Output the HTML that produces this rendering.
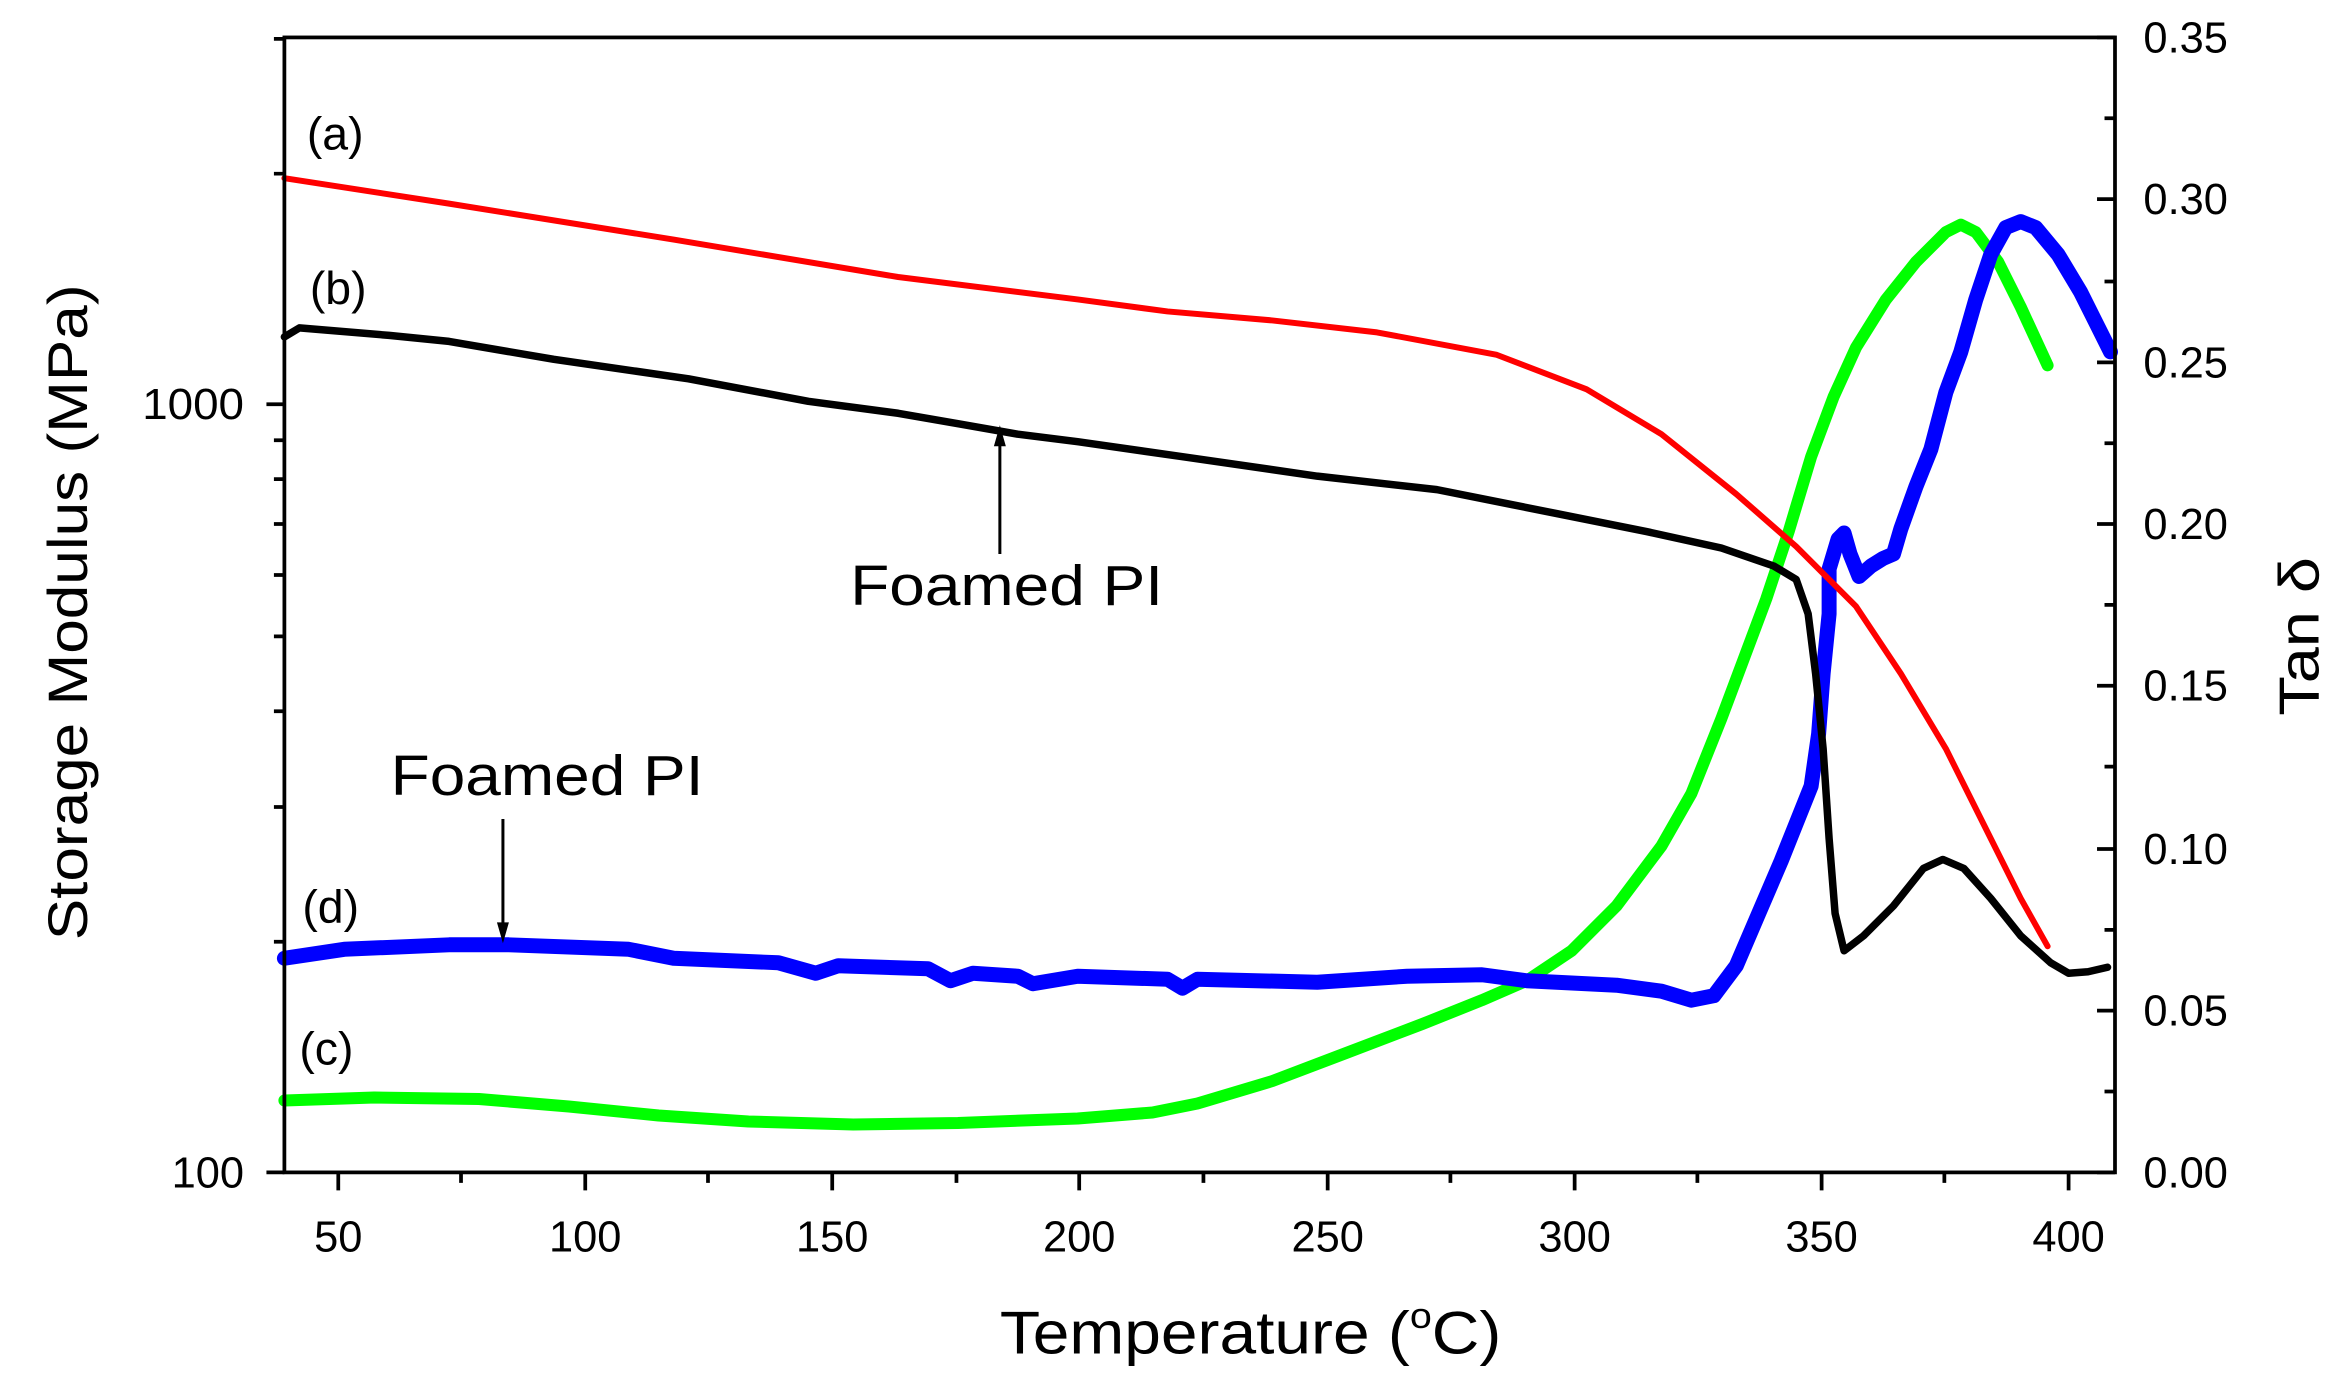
<!DOCTYPE html>
<html><head><meta charset="utf-8"><style>html,body{margin:0;padding:0;background:#fff}svg{display:block}text{font-family:"Liberation Sans",sans-serif}</style></head><body>
<svg width="2347" height="1388" viewBox="0 0 1568 927" preserveAspectRatio="none" xmlns="http://www.w3.org/2000/svg">
<rect width="1568" height="927" fill="#fff"/>
<g fill="none" stroke-linejoin="round" stroke-linecap="round">
<polyline stroke="#00ff00" stroke-width="8" points="190,735 250,733 320,734 380,739 440,745 500,749 570,751 640,750 720,747 770,743 800,737 850,722 900,703 950,684 990,668 1020,655 1050,635 1080,605 1110,565 1130,530 1150,480 1165,440 1180,400 1195,355 1210,305 1225,265 1240,232 1260,200 1280,175 1300,155 1310,150 1320,155 1335,175 1350,205 1368,244"/>
<polyline stroke="#0000ff" stroke-width="10" points="190,640 230,634 300,631 340,631 420,634 450,640 520,643 545,650 560,645 620,647 635,655 650,650 680,652 690,657 720,652 780,654 790,660 800,654 880,656 940,652 990,651 1020,655 1080,658 1110,662 1130,668 1145,665 1160,645 1175,610 1190,575 1200,550 1210,525 1215,490 1218,450 1222,410 1222,380 1228,360 1232,356 1236,370 1242,385 1250,378 1258,373 1265,370 1270,353 1280,325 1290,300 1300,262 1310,235 1320,200 1330,170 1340,152 1350,148 1360,152 1375,170 1390,195 1400,215 1410,235"/>
<polyline stroke="#ff0000" stroke-width="4" points="190,119 300,136 450,160 600,185 720,200 780,208 850,214 920,222 1000,237 1060,260 1110,290 1160,330 1200,365 1240,405 1270,450 1300,500 1330,560 1350,600 1368,632"/>
<polyline stroke="#000" stroke-width="5" points="190,225 200,219 260,224 300,228 370,240 460,253 540,268 600,276 640,283 680,290 720,295 790,305 880,318 960,327 1040,343 1100,355 1150,366 1185,378 1200,387 1208,410 1213,450 1218,500 1222,560 1226,610 1232,635 1245,625 1265,605 1285,580 1298,574 1312,580 1330,600 1350,625 1370,643 1382,650 1395,649 1408,646"/>
</g>
<g stroke="#000" stroke-width="2.5" fill="none">
<rect x="190" y="25" width="1223" height="758"/>
<path d="M226,783v12M391,783v12M556,783v12M721,783v12M887,783v12M1052,783v12M1217,783v12M1382,783v12M308,783v7M473,783v7M639,783v7M804,783v7M969,783v7M1134,783v7M1299,783v7"/>
<path d="M190,783h-12M190,270h-12M190,629h-7M190,539h-7M190,475h-7M190,425h-7M190,384h-7M190,350h-7M190,320h-7M190,294h-7M190,116h-7M190,26h-7"/>
<path d="M1413,25h-12M1413,133h-12M1413,242h-12M1413,350h-12M1413,458h-12M1413,567h-12M1413,675h-12M1413,783h-12M1413,79h-7M1413,188h-7M1413,296h-7M1413,404h-7M1413,512h-7M1413,621h-7M1413,729h-7"/>
</g>
<g font-size="29" fill="#000" text-anchor="middle">
<text x="226" y="836">50</text><text x="391" y="836">100</text><text x="556" y="836">150</text><text x="721" y="836">200</text><text x="887" y="836">250</text><text x="1052" y="836">300</text><text x="1217" y="836">350</text><text x="1382" y="836">400</text>
</g>
<g font-size="29" text-anchor="end"><text x="163" y="280" textLength="68" lengthAdjust="spacingAndGlyphs">1000</text><text x="163" y="793">100</text></g>
<g font-size="29" text-anchor="start">
<text x="1432" y="35">0.35</text><text x="1432" y="143">0.30</text><text x="1432" y="252">0.25</text><text x="1432" y="360">0.20</text><text x="1432" y="468">0.15</text><text x="1432" y="577">0.10</text><text x="1432" y="685">0.05</text><text x="1432" y="793">0.00</text>
</g>
<text x="668" y="904" font-size="40" textLength="335" lengthAdjust="spacingAndGlyphs">Temperature (<tspan font-size="24" dy="-17">o</tspan><tspan dy="17">C)</tspan></text>
<text transform="translate(58,409) rotate(-90)" font-size="37" text-anchor="middle" textLength="438" lengthAdjust="spacingAndGlyphs">Storage Modulus (MPa)</text>
<text transform="translate(1549,425) rotate(-90)" font-size="38" text-anchor="middle" textLength="106" lengthAdjust="spacingAndGlyphs">Tan δ</text>
<g font-size="31"><text x="205" y="100">(a)</text><text x="207" y="203">(b)</text><text x="202" y="616">(d)</text><text x="200" y="711">(c)</text></g>
<g font-size="38"><text x="568" y="404" textLength="209" lengthAdjust="spacingAndGlyphs">Foamed PI</text><text x="261" y="531" textLength="209" lengthAdjust="spacingAndGlyphs">Foamed PI</text></g>
<g stroke="#000" stroke-width="2"><path d="M668,370V296M336,547V618"/></g>
<path d="M668,284l-4,14h8z M336,630l-4,-14h8z" fill="#000"/>
</svg>
</body></html>
